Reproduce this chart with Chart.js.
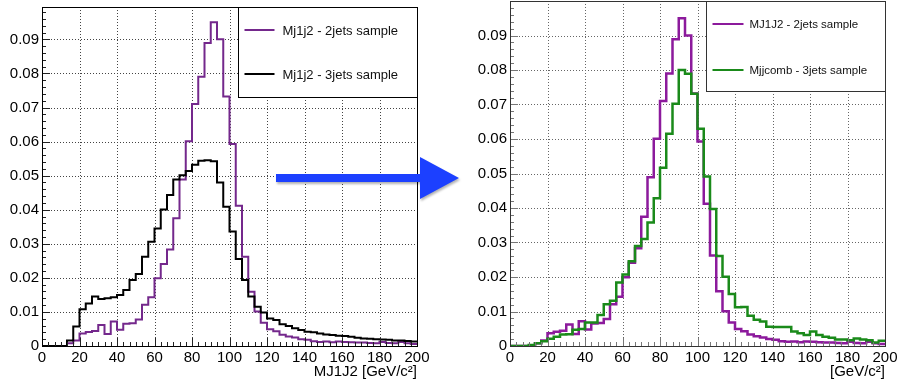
<!DOCTYPE html>
<html>
<head>
<meta charset="utf-8">
<title>MJ1J2 vs Mjjcomb</title>
<script src="https://cdn.jsdelivr.net/npm/chart.js@4.4.1/dist/chart.umd.min.js"></script>
<style>
	body { margin:0; background:#fff; width:898px; height:382px; overflow:hidden; position:relative; }
	.plot { position:absolute; top:0; height:382px; }
	#left_plot { left:0; width:445px; }
	#right_plot { left:460px; width:438px; }
	#arrow { position:absolute; left:270px; top:150px; filter:drop-shadow(1px 2px 1px rgba(0,0,0,0.3)); }
</style>
</head>
<body>
<div class="plot" id="left_plot"><canvas id="c_left"></canvas></div>
<div class="plot" id="right_plot"><canvas id="c_right"></canvas></div>
<svg id="arrow" width="200" height="60">
	<polygon points="6,24 150,24 150,7 189,28 150,49 150,32 6,32" fill="#1c40ff"/>
</svg>
<script>
// 60 bins from 0 to 200 GeV/c2
var nBins = 60;
var binEdges = [];
for (var i = 0; i <= nBins; i++) binEdges.push(i * 200 / nBins);

var xTickLabels = [0, 20, 40, 60, 80, 100, 120, 140, 160, 180, 200];
var yTickLabels = [0, 0.01, 0.02, 0.03, 0.04, 0.05, 0.06, 0.07, 0.08, 0.09];

// MJ1J2 - 2jets sample (same histogram in both pads)
var mj1j2_2jets = [
	0, 0, 0, 0, 0.0008, 0.0016, 0.0037, 0.0041, 0.0044, 0.0062,
	0.0035, 0.0072, 0.0048, 0.0065, 0.0067, 0.0078, 0.0121, 0.0143, 0.0199, 0.0241,
	0.0283, 0.0375, 0.0489, 0.0601, 0.0710, 0.0790, 0.0889, 0.0950, 0.0900, 0.0732,
	0.0593, 0.0412, 0.0262, 0.0159, 0.0101, 0.0068, 0.0049, 0.0043, 0.0033, 0.0028,
	0.0025, 0.0020, 0.0018, 0.0014, 0.0012, 0.0013, 0.0011, 0.0013, 0.0012, 0.0011,
	0.0010, 0.0010, 0.0009, 0.0008, 0.0012, 0.0009, 0.0008, 0.0012, 0.0008, 0.0006
];

// Mj1j2 - 3jets sample
var mj1j2_3jets = [
	0, 0, 0, 0, 0.0016, 0.0057, 0.0108, 0.0125, 0.0145, 0.0138,
	0.0140, 0.0143, 0.0150, 0.0164, 0.0194, 0.0211, 0.0262, 0.0306, 0.0345, 0.0401,
	0.0443, 0.0489, 0.0501, 0.0514, 0.0532, 0.0544, 0.0545, 0.0542, 0.0480, 0.0409,
	0.0336, 0.0255, 0.0194, 0.0145, 0.0115, 0.0098, 0.0081, 0.0076, 0.0064, 0.0059,
	0.0052, 0.0047, 0.0042, 0.0040, 0.0037, 0.0034, 0.0032, 0.0030, 0.0029, 0.0027,
	0.0024, 0.0022, 0.0021, 0.0020, 0.0019, 0.0018, 0.0016, 0.0016, 0.0015, 0.0013
];

// Mjjcomb - 3jets sample
var mjjcomb_3jets = [
	0, 0, 0, 0.0003, 0.0008, 0.0014, 0.0021, 0.0027, 0.0033, 0.0034,
	0.0047, 0.0049, 0.0068, 0.0068, 0.0090, 0.0121, 0.0131, 0.0184, 0.0207, 0.0246,
	0.0290, 0.0310, 0.0358, 0.0428, 0.0517, 0.0615, 0.0702, 0.0800, 0.0789, 0.0731,
	0.0630, 0.0491, 0.0397, 0.0261, 0.0201, 0.0151, 0.0112, 0.0113, 0.0088, 0.0076,
	0.0071, 0.0056, 0.0055, 0.0055, 0.0055, 0.0042, 0.0037, 0.0032, 0.0042, 0.0032,
	0.0027, 0.0024, 0.0019, 0.0019, 0.0017, 0.0022, 0.0019, 0.0017, 0.0010, 0.0015
];

var FONT = "'Liberation Sans', Arial, Helvetica, sans-serif";

// step outline: left edge of every bin, plus the closing edge
function histPoints(vals) {
	var pts = [];
	for (var i = 0; i < vals.length; i++) pts.push({x: binEdges[i], y: vals[i]});
	pts.push({x: binEdges[vals.length], y: vals[vals.length - 1]});
	return pts;
}

function histDataset(label, vals, color, width, order) {
	return {
		label: label,
		data: histPoints(vals),
		borderColor: color,
		borderWidth: width,
		stepped: 'before',
		pointRadius: 0,
		fill: false,
		order: order
	};
}

// no extra room for overhanging tick labels, the pad geometry is fixed
function noScalePadding(scale) {
	scale.paddingTop = 0;
	scale.paddingBottom = 0;
	scale.paddingLeft = 0;
	scale.paddingRight = 0;
}

// ROOT-like pad: dotted grid, frame, inner ticks, boxed legend
var rootPad = {
	id: 'rootPad',
	beforeDatasetsDraw: function(chart, args, opts) {
		var ctx = chart.ctx, a = chart.chartArea;
		var xs = chart.scales.x, ys = chart.scales.y;
		ctx.save();
		ctx.strokeStyle = opts.gridColor;
		ctx.lineWidth = 1;
		ctx.setLineDash([1, 2]);
		ctx.beginPath();
		xTickLabels.forEach(function(v) {
			if (v <= xs.min || v >= xs.max) return;
			var px = Math.round(xs.getPixelForValue(v)) + 0.5;
			ctx.moveTo(px, a.top); ctx.lineTo(px, a.bottom);
		});
		yTickLabels.forEach(function(v) {
			if (v <= ys.min || v >= ys.max) return;
			var py = Math.round(ys.getPixelForValue(v)) + 0.5;
			ctx.moveTo(a.left, py); ctx.lineTo(a.right, py);
		});
		ctx.stroke();
		ctx.restore();
	},
	afterDatasetsDraw: function(chart, args, opts) {
		var ctx = chart.ctx, a = chart.chartArea;
		var xs = chart.scales.x, ys = chart.scales.y;
		ctx.save();

		// ticks on x
		ctx.strokeStyle = opts.tickColor;
		ctx.lineWidth = 1;
		ctx.beginPath();
		var xStep = xTickLabels[1] - xTickLabels[0];
		for (var i = 0; i < xTickLabels.length; i++) {
			var v = xTickLabels[i];
			var px = Math.round(xs.getPixelForValue(v)) + 0.5;
			ctx.moveTo(px, a.bottom); ctx.lineTo(px, a.bottom - 8);
			if (i == xTickLabels.length - 1) break;
			for (var k = 1; k < opts.xMinor; k++) {
				px = Math.round(xs.getPixelForValue(v + k * xStep / opts.xMinor)) + 0.5;
				ctx.moveTo(px, a.bottom); ctx.lineTo(px, a.bottom - 4);
			}
		}
		// ticks on y
		var yStep = yTickLabels[1] - yTickLabels[0];
		for (var j = 0; j < yTickLabels.length; j++) {
			var w = yTickLabels[j];
			var py = Math.round(ys.getPixelForValue(w)) + 0.5;
			ctx.moveTo(a.left, py); ctx.lineTo(a.left + 8, py);
			for (var m = 1; m < opts.yMinor; m++) {
				var mv = w + m * yStep / opts.yMinor;
				if (mv >= ys.max) break;
				py = Math.round(ys.getPixelForValue(mv)) + 0.5;
				ctx.moveTo(a.left, py); ctx.lineTo(a.left + 4, py);
			}
		}
		ctx.stroke();

		// frame
		ctx.strokeStyle = opts.frameColor;
		ctx.strokeRect(Math.round(a.left) + 0.5, Math.round(a.top) + 0.5,
			Math.round(a.right - a.left), Math.round(a.bottom - a.top));

		// legend box
		var lg = opts.legend;
		var bx = Math.round(a.right) - lg.width + 0.5, by = Math.round(a.top) + 0.5;
		ctx.fillStyle = '#fff';
		ctx.fillRect(bx, by, lg.width, lg.height);
		ctx.strokeStyle = opts.frameColor;
		ctx.strokeRect(bx, by, lg.width, lg.height);
		ctx.font = lg.fontSize + 'px ' + FONT;
		ctx.textBaseline = 'middle';
		ctx.textAlign = 'left';
		chart.data.datasets.forEach(function(ds, n) {
			var ly = Math.round(by + lg.rows[n]);
			ctx.strokeStyle = ds.borderColor;
			ctx.lineWidth = 2;
			ctx.beginPath();
			ctx.moveTo(bx + lg.lineX0, ly); ctx.lineTo(bx + lg.lineX1, ly);
			ctx.stroke();
			ctx.fillStyle = '#111';
			ctx.fillText(ds.label, bx + lg.textX, ly + 1);
		});
		ctx.restore();
	}
};

function makePad(canvasId, datasets, cfg) {
	return new Chart(document.getElementById(canvasId), {
		type: 'line',
		data: { datasets: datasets },
		options: {
			responsive: true,
			maintainAspectRatio: false,
			animation: false,
			layout: { padding: { left: 0, top: cfg.top, right: cfg.right, bottom: 0 } },
			plugins: {
				legend: { display: false },
				tooltip: { enabled: false },
				rootPad: cfg.pad
			},
			scales: {
				x: {
					type: 'linear',
					min: 0,
					max: 200,
					grid: { display: false, drawTicks: false },
					border: { display: false },
					afterBuildTicks: function(scale) {
						scale.ticks = xTickLabels.map(function(v) { return {value: v}; });
					},
					afterFit: function(scale) {
						scale.height = 36;
						noScalePadding(scale);
					},
					ticks: {
						autoSkip: false,
						maxRotation: 0,
						padding: 3,
						color: '#000',
						font: { family: FONT, size: 15 }
					},
					title: {
						display: true,
						text: cfg.xTitle,
						align: 'end',
						color: '#000',
						font: { family: FONT, size: 15 },
						padding: { top: 0, bottom: 1 }
					}
				},
				y: {
					type: 'linear',
					min: 0,
					max: cfg.yMax,
					grid: { display: false, drawTicks: false },
					border: { display: false },
					afterBuildTicks: function(scale) {
						scale.ticks = yTickLabels.map(function(v) { return {value: v}; });
					},
					afterFit: function(scale) {
						scale.width = cfg.yWidth;
						noScalePadding(scale);
					},
					ticks: {
						padding: 3,
						color: '#000',
						font: { family: FONT, size: 15 },
						callback: function(v) { return v == 0 ? '0' : v.toFixed(2); }
					}
				}
			}
		},
		plugins: [rootPad]
	});
}

var leftPad = makePad('c_left', [
	histDataset('Mj1j2 - 2jets sample', mj1j2_2jets, '#74288c', 2, 1),
	histDataset('Mj1j2 - 3jets sample', mj1j2_3jets, '#000000', 2, 0)
], {
	top: 7, right: 28, yMax: 0.0995, yWidth: 42,
	xTitle: 'MJ1J2 [GeV/c\u00b2]',
	pad: {
		gridColor: '#444', tickColor: '#222', frameColor: '#000', xMinor: 6, yMinor: 5,
		legend: { width: 179, height: 90, rows: [22, 66], lineX0: 6, lineX1: 36, textX: 44, fontSize: 13 }
	}
});

var rightPad = makePad('c_right', [
	histDataset('MJ1J2 - 2jets sample', mj1j2_2jets, '#8c1a9c', 2.5, 1),
	histDataset('Mjjcomb - 3jets sample', mjjcomb_3jets, '#1a8a1a', 2.5, 0)
], {
	top: 1, right: 13, yMax: 0.1, yWidth: 50,
	xTitle: '[GeV/c\u00b2]',
	pad: {
		gridColor: '#666', tickColor: '#777', frameColor: '#333', xMinor: 6, yMinor: 5,
		legend: { width: 179, height: 90, rows: [22, 68], lineX0: 6, lineX1: 37, textX: 43, fontSize: 11.5 }
	}
});
</script>
</body>
</html>
